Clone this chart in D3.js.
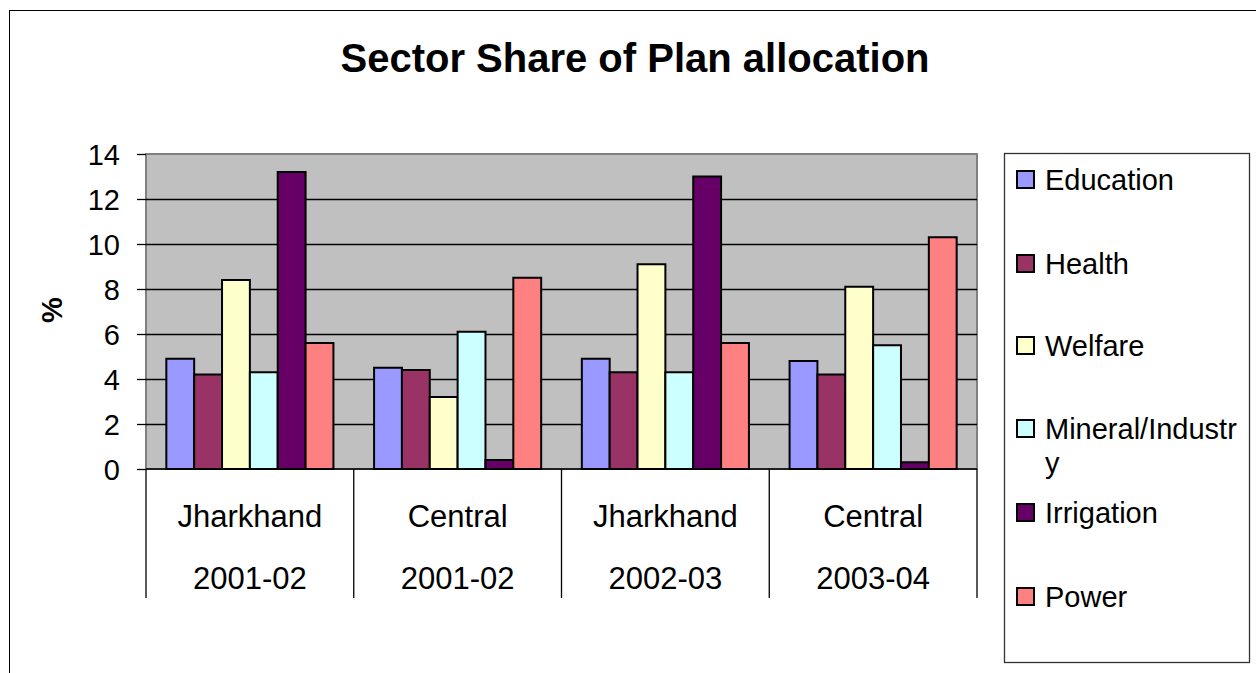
<!DOCTYPE html>
<html lang="en-US">
<head>
    <meta charset="UTF-8" />
    <title>Sector Share of Plan allocation</title>
    <style>
        body { margin: 0; background: #fff; }
        svg { display: block; }
        text { font-family: "Liberation Sans", Arial, sans-serif; fill: #000; }
    </style>
    <script src="https://d3js.org/d3.v7.min.js"></script>
</head>
<body>
    <div id="container"></div>
    <script>
        // chart values
        const regions = ["Jharkhand", "Central", "Jharkhand", "Central"];
        const years = ["2001-02", "2001-02", "2002-03", "2003-04"];
        const sectors = ["Education", "Health", "Welfare", "Mineral/Industry", "Irrigation", "Power"];
        const education = [4.9, 4.5, 4.9, 4.8];
        const health = [4.2, 4.4, 4.3, 4.2];
        const welfare = [8.4, 3.2, 9.1, 8.1];
        const mineral = [4.3, 6.1, 4.3, 5.5];
        const irrigation = [13.2, 0.4, 13.0, 0.3];
        const power = [5.6, 8.5, 5.6, 10.3];
        const yTicks = [0, 2, 4, 6, 8, 10, 12, 14];
        const colors = ["#9999FF", "#993366", "#FFFFCC", "#CCFFFF", "#660066", "#FF8080"];

        const seriesValues = [education, health, welfare, mineral, irrigation, power];

        const width = 1256, height = 673;
        const plot = { left: 146, right: 977, top: 154, bottom: 469 };

        const svg = d3.select("#container").append("svg")
            .attr("width", width)
            .attr("height", height);

        // outer chart border (cropped at right and bottom)
        svg.append("rect")
            .attr("x", 9.5).attr("y", 10.5)
            .attr("width", 1300).attr("height", 700)
            .attr("fill", "#fff").attr("stroke", "#000").attr("stroke-width", 1);

        svg.append("text")
            .attr("x", 635).attr("y", 72)
            .attr("text-anchor", "middle")
            .attr("font-size", "40px")
            .attr("font-weight", "bold")
            .text("Sector Share of Plan allocation");

        const groups = d3.range(regions.length);

        const x0 = d3.scaleBand()
            .domain(groups)
            .range([plot.left, plot.right])
            .padding(0);

        const x1 = d3.scaleBand()
            .domain(d3.range(sectors.length))
            .range([0, x0.bandwidth()])
            .paddingInner(0)
            .paddingOuter(0.73);

        const y = d3.scaleLinear()
            .domain([0, 14])
            .range([plot.bottom, plot.top]);

        // plot background
        svg.append("rect")
            .attr("x", plot.left).attr("y", plot.top)
            .attr("width", plot.right - plot.left)
            .attr("height", plot.bottom - plot.top)
            .attr("fill", "#C0C0C0")
            .attr("stroke", "#808080")
            .attr("stroke-width", 2);

        // gridlines
        svg.append("g")
            .attr("transform", `translate(${plot.left},0)`)
            .call(d3.axisLeft(y).tickValues(yTicks.slice(1, -1)).tickSize(-(plot.right - plot.left)).tickFormat(""))
            .call(g => g.select(".domain").remove())
            .call(g => g.selectAll("line").attr("stroke", "#000").attr("stroke-width", 1.3));

        // y axis
        const yAxis = svg.append("g")
            .attr("transform", `translate(${plot.left},0)`)
            .call(d3.axisLeft(y).tickValues(yTicks).tickSize(9).tickPadding(17))
            .call(g => g.select(".domain").remove());
        yAxis.selectAll("line").attr("stroke", "#000").attr("stroke-width", 1.3);
        yAxis.selectAll("text")
            .attr("font-size", "29px")
            .attr("font-family", "'Liberation Sans', Arial, sans-serif")
            .attr("dy", "0.35em");

        svg.append("text")
            .attr("transform", "translate(62,310) rotate(-90)")
            .attr("text-anchor", "middle")
            .attr("font-size", "29px")
            .attr("font-weight", "bold")
            .text("%");

        // bars
        const barData = [];
        groups.forEach(gi => {
            seriesValues.forEach((vals, si) => {
                barData.push({ g: gi, s: si, v: vals[gi] });
            });
        });

        svg.append("g")
            .selectAll("rect")
            .data(barData)
            .join("rect")
            .attr("x", d => x0(d.g) + x1(d.s))
            .attr("y", d => y(d.v))
            .attr("width", x1.bandwidth())
            .attr("height", d => y(0) - y(d.v))
            .attr("fill", d => colors[d.s])
            .attr("stroke", "#000")
            .attr("stroke-width", 2);

        // category axis
        svg.append("line")
            .attr("x1", plot.left).attr("x2", plot.right)
            .attr("y1", plot.bottom).attr("y2", plot.bottom)
            .attr("stroke", "#000").attr("stroke-width", 1.3);

        const bounds = groups.map(d => x0(d)).concat([plot.right]);
        svg.append("g")
            .selectAll("line")
            .data(bounds)
            .join("line")
            .attr("x1", d => d).attr("x2", d => d)
            .attr("y1", plot.bottom).attr("y2", 598)
            .attr("stroke", "#000").attr("stroke-width", 1.3);

        const cat = svg.append("g")
            .selectAll("g")
            .data(groups)
            .join("g")
            .attr("transform", d => `translate(${x0(d) + x0.bandwidth() / 2},0)`);
        cat.append("text")
            .attr("y", 527)
            .attr("text-anchor", "middle")
            .attr("font-size", "31px")
            .text(d => regions[d]);
        cat.append("text")
            .attr("y", 589)
            .attr("text-anchor", "middle")
            .attr("font-size", "31px")
            .text(d => years[d]);

        // legend
        svg.append("rect")
            .attr("x", 1004.5).attr("y", 153.5)
            .attr("width", 245).attr("height", 509)
            .attr("fill", "#fff")
            .attr("stroke", "#333").attr("stroke-width", 1.3);

        const legendY = [180, 264, 346, 429, 513, 597];
        const item = svg.append("g")
            .selectAll("g")
            .data(sectors)
            .join("g")
            .attr("transform", (d, i) => `translate(1017,${legendY[i]})`);
        item.append("rect")
            .attr("x", 0).attr("y", -9)
            .attr("width", 17).attr("height", 17)
            .attr("fill", (d, i) => colors[i])
            .attr("stroke", "#000").attr("stroke-width", 2);
        item.append("text")
            .attr("x", 28)
            .attr("font-size", "29px")
            .attr("dy", "0.35em")
            .each(function (d) {
                const t = d3.select(this);
                if (d === "Mineral/Industry") {
                    t.append("tspan").text("Mineral/Industr");
                    t.append("tspan").attr("x", 28).attr("dy", "1.17em").text("y");
                } else {
                    t.text(d);
                }
            });
    </script>
</body>
</html>
